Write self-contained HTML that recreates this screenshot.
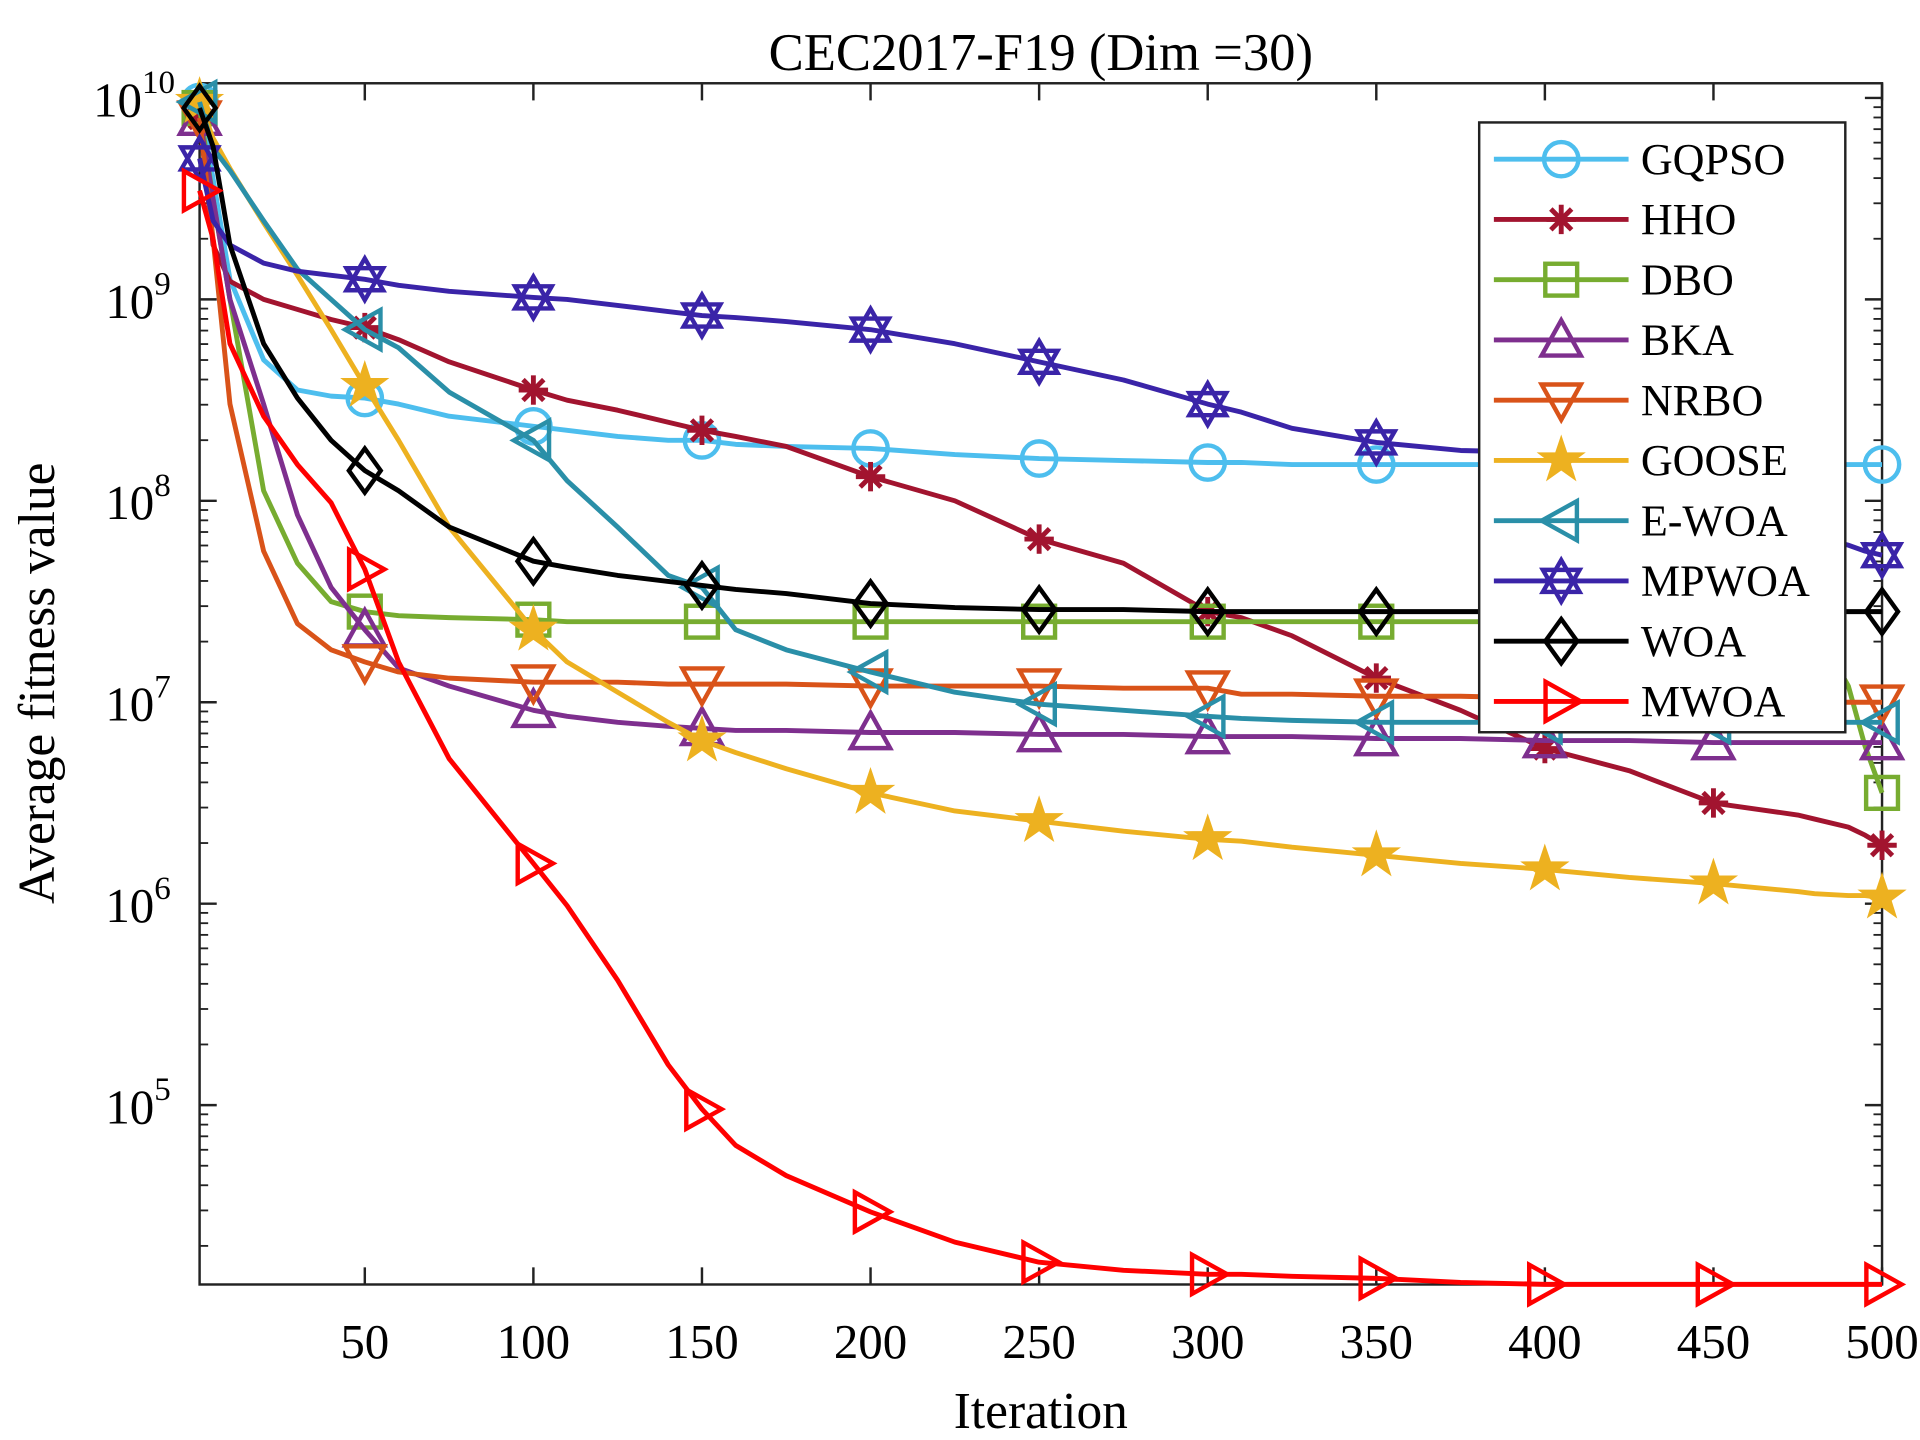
<!DOCTYPE html>
<html><head><meta charset="utf-8"><style>
html,body{margin:0;padding:0;background:#fff;}
svg{display:block;font-family:"Liberation Serif",serif;}
</style></head><body>
<svg id="chart" width="1920" height="1440" viewBox="0 0 1568 1176" xmlns="http://www.w3.org/2000/svg">
<rect x="0" y="0" width="1568" height="1176" fill="#fff"/>
<text x="850" y="57" font-size="43" text-anchor="middle">CEC2017-F19 (Dim =30)</text>
<text x="850" y="1166" font-size="42" text-anchor="middle">Iteration</text>
<text transform="translate(44,558) rotate(-90)" font-size="42" text-anchor="middle">Average fitness value</text>
<g id="axes"></g>
<g id="series"></g>
<g id="legend"></g>
</svg>
<script>
const iters = [1,5,10,20,30,40,50,60,75,100,110,125,140,150,160,175,200,225,250,275,300,310,325,350,375,400,425,450,475,480,490,495,500];
const seriesNames = ["GQPSO","HHO","DBO","BKA","NRBO","GOOSE","E-WOA","MPWOA","WOA","MWOA"];
const seriesColors = ["#4DBEEE","#A2142F","#77AC30","#7E2F8E","#D95319","#EDB120","#2A8FA8","#3A24A8","#000000","#FF0000"];
const markers = ["circle","asterisk","square","triangle-up","triangle-down","star","triangle-left","hexagram","diamond","triangle-right"];
// log10 values at each iteration in iters
const GQPSO = [9.98,9.6,9.1,8.7,8.55,8.52,8.51,8.48,8.42,8.37,8.35,8.32,8.30,8.30,8.28,8.27,8.26,8.23,8.21,8.20,8.19,8.19,8.18,8.18,8.18,8.18,8.18,8.18,8.18,8.18,8.18,8.18,8.18];
const HHO = [9.9,9.27,9.09,9.0,8.95,8.9,8.86,8.8,8.69,8.55,8.5,8.45,8.39,8.35,8.32,8.27,8.12,8.0,7.81,7.69,7.45,7.42,7.33,7.12,6.96,6.77,6.66,6.5,6.44,6.42,6.38,6.34,6.29];
const DBO = [9.95,9.5,9.0,8.05,7.69,7.5,7.45,7.43,7.42,7.41,7.40,7.40,7.40,7.40,7.40,7.40,7.40,7.40,7.40,7.40,7.40,7.40,7.40,7.40,7.40,7.40,7.40,7.40,7.40,7.38,7.08,6.78,6.55];
const BKA = [9.9,9.5,9.0,8.48,7.93,7.57,7.36,7.17,7.08,6.96,6.93,6.9,6.88,6.87,6.86,6.86,6.85,6.85,6.84,6.84,6.83,6.83,6.83,6.82,6.82,6.81,6.81,6.8,6.8,6.8,6.8,6.8,6.8];
const NRBO = [9.9,9.3,8.48,7.75,7.39,7.26,7.2,7.15,7.12,7.1,7.1,7.1,7.09,7.09,7.09,7.09,7.08,7.08,7.08,7.07,7.07,7.04,7.04,7.03,7.03,7.02,7.02,7.01,7.01,7.0,7.0,7.0,7.0];
const GOOSE = [9.98,9.8,9.65,9.38,9.12,8.85,8.57,8.3,7.87,7.36,7.2,7.05,6.9,6.81,6.75,6.67,6.55,6.46,6.41,6.36,6.32,6.31,6.28,6.24,6.2,6.17,6.13,6.1,6.06,6.05,6.04,6.04,6.03];
const EWOA = [9.98,9.75,9.64,9.39,9.15,9.0,8.85,8.76,8.54,8.3,8.1,7.87,7.63,7.57,7.36,7.26,7.15,7.05,6.99,6.96,6.93,6.92,6.91,6.9,6.9,6.9,6.9,6.9,6.9,6.9,6.9,6.9,6.9];
const MPWOA = [9.7,9.39,9.27,9.18,9.14,9.12,9.1,9.07,9.04,9.01,9.0,8.97,8.94,8.92,8.91,8.89,8.85,8.78,8.69,8.6,8.48,8.44,8.36,8.29,8.25,8.24,8.15,7.99,7.84,7.82,7.78,7.75,7.73];
const WOA = [9.95,9.76,9.27,8.78,8.51,8.3,8.15,8.05,7.87,7.7,7.67,7.63,7.6,7.58,7.56,7.54,7.49,7.47,7.46,7.46,7.45,7.45,7.45,7.45,7.45,7.45,7.45,7.45,7.45,7.45,7.45,7.45,7.45];
const MWOA = [9.54,9.3,8.78,8.42,8.18,7.99,7.66,7.2,6.72,6.2,5.99,5.62,5.2,4.98,4.8,4.65,4.47,4.32,4.22,4.18,4.16,4.16,4.15,4.14,4.12,4.11,4.11,4.11,4.11,4.11,4.11,4.11,4.11];
const allSeries = [GQPSO,HHO,DBO,BKA,NRBO,GOOSE,EWOA,MPWOA,WOA,MWOA];
const xTicks = [50,100,150,200,250,300,350,400,450,500];
const yTickExps = [5,6,7,8,9,10];
const markerIters = [1,50,100,150,200,250,300,350,400,450,500];

const NS = "http://www.w3.org/2000/svg";
const PL = 163, PR = 1537, PT = 68, PB = 1049;
const xMin = 1, xMax = 500;
function xs(v){ return PL + (v - xMin) / (xMax - xMin) * (PR - PL); }
function ys(lg){ return 80 + (10 - lg) * 164.5; }
function mk(tag, attrs, parent){ const e = document.createElementNS(NS, tag); for (const k in attrs) e.setAttribute(k, attrs[k]); parent.appendChild(e); return e; }
function interp(arr, it){
  for (let i = 0; i < iters.length - 1; i++) {
    if (it >= iters[i] && it <= iters[i+1]) { const t = (it - iters[i]) / (iters[i+1] - iters[i]); return arr[i] + t * (arr[i+1] - arr[i]); }
  }
  return arr[arr.length - 1];
}
const axes = document.getElementById('axes');
const box = mk('rect', {x:PL, y:PT, width:PR-PL, height:PB-PT, fill:'none', stroke:'#222', 'stroke-width':2}, axes);


xTicks.forEach(t => {
  const x = xs(t);
  mk('line', {x1:x, y1:PB, x2:x, y2:PB-14, stroke:'#222', 'stroke-width':2}, axes);
  mk('line', {x1:x, y1:PT, x2:x, y2:PT+14, stroke:'#222', 'stroke-width':2}, axes);
  const tx = mk('text', {x:x, y:1109, 'font-size':40, 'text-anchor':'middle'}, axes);
  tx.textContent = t;
  
  
});
yTickExps.forEach(e => {
  const y = ys(e);
  mk('line', {x1:PL, y1:y, x2:PL+14, y2:y, stroke:'#222', 'stroke-width':2}, axes);
  mk('line', {x1:PR, y1:y, x2:PR-14, y2:y, stroke:'#222', 'stroke-width':2}, axes);
  for (let k = 2; k < 10; k++) {
    const ym = ys(e - 1 + Math.log10(k));
    if (ym > PT && ym < PB) {
      mk('line', {x1:PL, y1:ym, x2:PL+7, y2:ym, stroke:'#222', 'stroke-width':1.5}, axes);
      mk('line', {x1:PR, y1:ym, x2:PR-7, y2:ym, stroke:'#222', 'stroke-width':1.5}, axes);
    }
  }
  const tx = mk('text', {x:e===10?116:126, y:y+15, 'font-size':40, 'text-anchor':'end'}, axes);
  tx.textContent = '10';
  
  
  const sup = mk('text', {x:e===10?116:126, y:y-4, 'font-size':27, 'text-anchor':'start'}, axes);
  sup.textContent = String(e);
  
  
});
function drawMarker(type, cx, cy, color, parent){
  const r = 16, a = {fill:'none', stroke:color, 'stroke-width':3.6};
  let el;
  if (type === 'circle') el = mk('circle', Object.assign({cx, cy, r:14}, a), parent);
  else if (type === 'square') el = mk('rect', Object.assign({x:cx-13, y:cy-13, width:26, height:26}, a), parent);
  else if (type === 'diamond') el = mk('polygon', Object.assign({points:`${cx},${cy-18} ${cx+13},${cy} ${cx},${cy+18} ${cx-13},${cy}`}, a), parent);
  else if (type === 'triangle-up') el = mk('polygon', Object.assign({points:`${cx},${cy-r} ${cx+r},${cy+r*0.8} ${cx-r},${cy+r*0.8}`}, a), parent);
  else if (type === 'triangle-down') el = mk('polygon', Object.assign({points:`${cx},${cy+r} ${cx+r},${cy-r*0.8} ${cx-r},${cy-r*0.8}`}, a), parent);
  else if (type === 'triangle-left') el = mk('polygon', Object.assign({points:`${cx-r},${cy} ${cx+r*0.8},${cy-r} ${cx+r*0.8},${cy+r}`}, a), parent);
  else if (type === 'triangle-right') el = mk('polygon', Object.assign({points:`${cx+r},${cy} ${cx-r*0.8},${cy-r} ${cx-r*0.8},${cy+r}`}, a), parent);
  else if (type === 'asterisk') {
    el = mk('g', {}, parent);
    for (let k = 0; k < 4; k++) { const ang = k * Math.PI / 4 + Math.PI/2; mk('line', {x1:cx-12*Math.cos(ang), y1:cy-12*Math.sin(ang), x2:cx+12*Math.cos(ang), y2:cy+12*Math.sin(ang), stroke:color, 'stroke-width':4}, el); }
  } else if (type === 'star') {
    let p = [];
    for (let k = 0; k < 10; k++) { const rr = k % 2 ? 7 : 18; const ang = -Math.PI/2 + k * Math.PI / 5; p.push((cx + rr*Math.cos(ang)).toFixed(1) + ',' + (cy + rr*Math.sin(ang)).toFixed(1)); }
    el = mk('polygon', {points:p.join(' '), fill:color, stroke:color, 'stroke-width':2}, parent);
  } else if (type === 'hexagram') {
    el = mk('g', {}, parent);
    mk('polygon', Object.assign({points:`${cx},${cy-17} ${cx+15},${cy+9} ${cx-15},${cy+9}`}, a), el);
    mk('polygon', Object.assign({points:`${cx},${cy+17} ${cx+15},${cy-9} ${cx-15},${cy-9}`}, a), el);
  }
  return el;
}
const sg = document.getElementById('series');
const drawOrder = [0,1,2,3,4,5,6,7,8,9];
drawOrder.forEach(si => {
  const data = allSeries[si], color = seriesColors[si];
  const g = mk('g', {}, sg);
  
  
  const pts = iters.map((it, i) => xs(it).toFixed(1) + ',' + ys(Math.min(data[i], 10.05)).toFixed(1));
  const pl = mk('polyline', {points:pts.join(' '), fill:'none', stroke:color, 'stroke-width':4, 'stroke-linejoin':'round'}, g);
  
  
  markerIters.forEach(it => {
    const m = drawMarker(markers[si], xs(it), ys(Math.min(interp(data, it), 10.05)), color, g);
    
    
  });
});
const lg = document.getElementById('legend');


mk('rect', {x:1208, y:100, width:299, height:498, fill:'#fff', stroke:'#222', 'stroke-width':2}, lg);
seriesNames.forEach((n, i) => {
  const y = 130 + i * 49.2;
  const e = mk('g', {}, lg);
  
  
  mk('line', {x1:1220, y1:y, x2:1330, y2:y, stroke:seriesColors[i], 'stroke-width':4}, e);
  drawMarker(markers[i], 1275, y, seriesColors[i], e);
  const t = mk('text', {x:1340, y:y+12, 'font-size':36}, e);
  t.textContent = n;
});
</script>
</body></html>
